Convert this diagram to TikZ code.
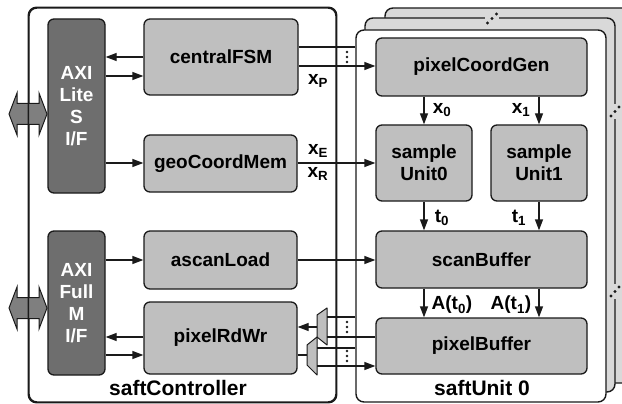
\documentclass[tikz,border=0pt]{standalone}
\usepackage{fontspec}
\setmainfont{Liberation Sans}
\usetikzlibrary{arrows.meta}
\definecolor{blockgray}{HTML}{BFBFBF}
\definecolor{axigray}{HTML}{6E6E6E}
\definecolor{backgray}{HTML}{D9D9D9}
\definecolor{edgecol}{HTML}{1A1A1A}
\definecolor{busgray}{HTML}{7F7F7F}
\begin{document}
\begin{tikzpicture}[x=1pt,y=-1pt,
  block/.style={draw=edgecol, line width=1.3pt, fill=blockgray, rounded corners=6pt,
    inner sep=0pt, font=\fontsize{19}{22}\selectfont\bfseries, align=center},
  axi/.style={block, fill=axigray, text=white},
  unitframe/.style={draw=edgecol, line width=1.4pt, rounded corners=8pt, inner sep=0pt,
    minimum width=250pt},
  arr/.style={draw=edgecol, line width=1.3pt, -{Triangle[length=11pt,width=8pt]}},
  wire/.style={draw=edgecol, line width=1.3pt},
  lbl/.style={font=\fontsize{19}{22}\selectfont\bfseries, inner sep=0pt},
  title/.style={font=\fontsize{21}{24}\selectfont\bfseries, inner sep=0pt},
  mux/.style={draw=edgecol, line width=1pt, fill=blockgray, line join=round},
  bus/.style={draw=edgecol, line width=1pt, fill=busgray},
  dotmark/.style={fill=edgecol},
]
\useasboundingbox (0,0) rectangle (622,404);
\clip (0,0) rectangle (622,404);

% ---------------- saftUnit stack ----------------
\node[unitframe, fill=backgray, minimum height=375pt] (unitC) at (510,195.5) {};
\node[unitframe, fill=backgray, minimum height=374pt] (unitB) at (490,205) {};
% ellipsis marks breaking the middle frame
\draw[backgray, line width=2.5pt] (485,18) -- (499,18);
\draw[backgray, line width=2.5pt] (615,104) -- (615,119);
\draw[backgray, line width=2.5pt] (615,284) -- (615,299);
\foreach \p in {(487.5,23),(492,18.5),(496.5,14),
                (611,116),(615,111.5),(619,107),
                (611,296),(615,291.5),(619,287)}
  \fill[dotmark] \p circle (1.6pt);
\node[unitframe, fill=white, minimum height=372pt] (unitA) at (481,216) {};

% ---------------- saftController ----------------
\node[draw=edgecol, line width=1.4pt, rounded corners=8pt, fill=white, inner sep=0pt,
  minimum width=307pt, minimum height=394pt] (ctrl) at (182.5,205) {};

% bus arrows at the left edge
\coordinate (busLite) at (28,114);
\coordinate (busFull) at (28,308);
\foreach \c in {busLite,busFull}
  \draw[bus] (\c) ++(-19,0) -- ++(8,-21) -- ++(0,10.5) -- ++(22,0) -- ++(0,-10.5)
    -- ++(8,21) -- ++(-8,21) -- ++(0,-10.5) -- ++(-22,0) -- ++(0,10.5) -- cycle;
\draw[edgecol, line width=1.4pt, rounded corners=8pt] (ctrl.south west) rectangle (ctrl.north east);

\node[title] (ctrlTitle) at (178,388) {saftController};
\node[title] (unitTitle) at (482,388) {saftUnit 0};

% ---------------- blocks ----------------
\node[axi, minimum width=57pt, minimum height=174pt] (axil) at (76.5,106) {AXI\\Lite\\S\\I/F};
\node[axi, minimum width=57pt, minimum height=144pt] (axif) at (76.5,303) {AXI\\Full\\M\\I/F};
\node[block, minimum width=154pt, minimum height=76pt] (fsm) at (221,57) {centralFSM};
\node[block, minimum width=153pt, minimum height=57pt] (geo) at (220.5,163.5) {geoCoordMem};
\node[block, minimum width=153pt, minimum height=58pt] (ascan) at (220.5,260) {ascanLoad};
\node[block, minimum width=153pt, minimum height=72pt] (rdwr) at (220.5,338) {pixelRdWr};

\node[block, minimum width=211pt, minimum height=58pt] (pcg) at (481.5,67) {pixelCoordGen};
\node[block, minimum width=96pt, minimum height=76pt] (su0) at (424,163) {sample\\Unit0};
\node[block, minimum width=96pt, minimum height=76pt] (su1) at (539,163) {sample\\Unit1};
\node[block, minimum width=211pt, minimum height=57pt] (scan) at (481.5,259.5) {scanBuffer};
\node[block, minimum width=211pt, minimum height=56pt] (pbuf) at (481.5,346) {pixelBuffer};

% ---------------- controller connections ----------------
\draw[arr] (fsm.west |- 0,57) -- (axil.east |- 0,57);
\draw[arr] (axil.east |- 0,76) -- (fsm.west |- 0,76);
\draw[arr] (axil.east |- 0,163) -- (geo.west |- 0,163);
\draw[arr] (axif.east |- 0,260) -- (ascan.west |- 0,260);
\draw[arr] (rdwr.west |- 0,337) -- (axif.east |- 0,337);
\draw[arr] (axif.east |- 0,355) -- (rdwr.west |- 0,355);

% ---------------- controller to units ----------------
\draw[wire] (fsm.east |- 0,47) -- (unitA.west |- 0,47);
\draw[arr] (fsm.east |- 0,66) -- (pcg.west |- 0,66);
\draw[arr] (geo.east |- 0,163) -- (su0.west |- 0,163);
\draw[arr] (ascan.east |- 0,260) -- (scan.west |- 0,260);

\node[lbl] (lxp) at (318,81) {x\textsubscript{P}};
\node[lbl] (lxe) at (318,151) {x\textsubscript{E}};
\node[lbl] (lxr) at (318,174) {x\textsubscript{R}};

% pixel read/write multiplexers
\coordinate (muxRdOut) at (317,327);
\coordinate (muxRdInA) at (327,317);
\coordinate (muxRdInB) at (327,337);
\coordinate (muxWrIn) at (307,355);
\coordinate (muxWrOutA) at (317,348);
\coordinate (muxWrOutB) at (317,366);
\draw[mux] (307,345) -- (317,337) -- (317,375) -- (307,365) -- cycle;
\draw[mux] (317,315) -- (327,308) -- (327,345) -- (317,337) -- cycle;

\draw[arr] (muxRdOut) -- (rdwr.east |- muxRdOut);
\draw[wire] (muxRdInA) -- (unitA.west |- muxRdInA);
\draw[wire] (muxRdInB) -- (pbuf.west |- muxRdInB);
\draw[wire] (rdwr.east |- muxWrIn) -- (muxWrIn);
\draw[wire] (muxWrOutA) -- (unitA.west |- muxWrOutA);
\draw[arr] (muxWrOutB) -- (pbuf.west |- muxWrOutB);

% vertical ellipses for the other units' lines
\foreach \y in {52,57,62, 322,327,332, 351,356,361}
  \fill[dotmark] (347,\y) circle (1.3pt);

% ---------------- unit internals ----------------
\draw[arr] (pcg.south -| su0.north) -- (su0.north);
\draw[arr] (pcg.south -| su1.north) -- (su1.north);
\draw[arr] (su0.south) -- (scan.north -| su0.south);
\draw[arr] (su1.south) -- (scan.north -| su1.south);
\draw[arr] (scan.south -| su0.south) -- (pbuf.north -| su0.south);
\draw[arr] (scan.south -| su1.south) -- (pbuf.north -| su1.south);

\node[lbl] (lx0) at (442,110) {x\textsubscript{0}};
\node[lbl] (lx1) at (521,110) {x\textsubscript{1}};
\node[lbl] (lt0) at (442,218) {t\textsubscript{0}};
\node[lbl] (lt1) at (519,218) {t\textsubscript{1}};
\node[lbl] (la0) at (452,305) {A(t\textsubscript{0})};
\node[lbl] (la1) at (511,305) {A(t\textsubscript{1})};
\end{tikzpicture}
\end{document}
